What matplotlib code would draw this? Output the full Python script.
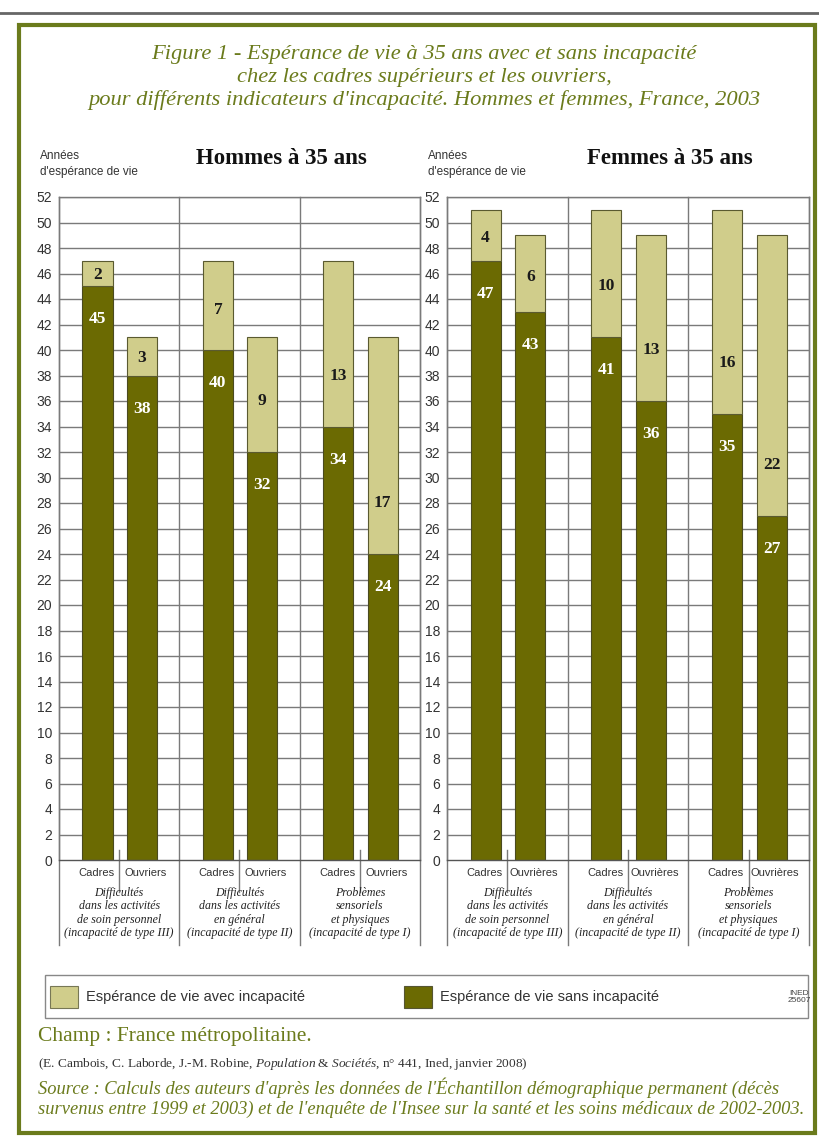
import matplotlib.pyplot as plt
from matplotlib.patches import Rectangle

# values (years of life expectancy at 35)
groupes = ["Difficultés\ndans les activités\nde soin personnel\n(incapacité de type III)",
           "Difficultés\ndans les activités\nen général\n(incapacité de type II)",
           "Problèmes\nsensoriels\net physiques\n(incapacité de type I)"]
hommes_cat = ["Cadres", "Ouvriers"]
femmes_cat = ["Cadres", "Ouvrières"]

hommes_cadres_sans = [45, 40, 34]
hommes_cadres_avec = [2, 7, 13]
hommes_ouvriers_sans = [38, 32, 24]
hommes_ouvriers_avec = [3, 9, 17]

femmes_cadres_sans = [47, 41, 35]
femmes_cadres_avec = [4, 10, 16]
femmes_ouvrieres_sans = [43, 36, 27]
femmes_ouvrieres_avec = [6, 13, 22]

yticks = list(range(0, 53, 2))

DARK = "#6b6a02"
LIGHT = "#d0cd8b"
OLIVE = "#6b7b1c"
GRID = "#7a7a7a"
W, H = 820, 1142
SERIF = ["Liberation Serif", "DejaVu Serif"]
SANS = ["Liberation Sans", "DejaVu Sans"]

plt.rcParams["mathtext.fontset"] = "custom"
plt.rcParams["mathtext.rm"] = "Liberation Serif"
plt.rcParams["mathtext.it"] = "Liberation Serif:italic"

fig = plt.figure(figsize=(W / 100, H / 100), dpi=100)


def px(x, y):
    return x / W, 1 - y / H


def panel(x0, x1, cat, c_sans, c_avec, o_sans, o_avec, titre):
    l, b = px(x0, 860)
    r, t = px(x1, 197)
    ax = fig.add_axes([l, b, r - l, t - b])
    ax.set_xlim(0, 3)
    ax.set_ylim(0, 52)
    ax.set_yticks(yticks)
    ax.set_yticklabels([str(v) for v in yticks], fontsize=10, family=SANS, color="#333333")
    ax.set_xticks([])
    ax.tick_params(axis="y", length=0, pad=5)
    for s in ax.spines.values():
        s.set_color(GRID)
        s.set_linewidth(1.0)
    ax.spines["bottom"].set_color("#555555")
    for v in yticks[1:]:
        ax.axhline(v, color=GRID, lw=1.0, zorder=0)

    w = 0.25
    for i in range(3):
        for pos, sans, avec in [(i + 0.32, c_sans[i], c_avec[i]), (i + 0.69, o_sans[i], o_avec[i])]:
            ax.bar(pos, sans, w, color=DARK, edgecolor="#4a4a20", lw=0.8, zorder=2)
            ax.bar(pos, avec, w, bottom=sans, color=LIGHT, edgecolor="#5a5a30", lw=0.8, zorder=2)
            ax.text(pos, sans - 2.6, str(sans), ha="center", va="center", color="white",
                    fontsize=12.5, fontweight="bold", family=SERIF, zorder=3)
            ax.text(pos, sans + min(avec * 0.45, 4), str(avec), ha="center", va="center",
                    color="#1a1a1a", fontsize=12.5, fontweight="bold", family=SERIF, zorder=3)
        ax.text(i + 0.31, -1.0, cat[0], ha="center", va="center", fontsize=8,
                family=SANS, color="#333333")
        ax.text(i + 0.72, -1.0, cat[1], ha="center", va="center", fontsize=8,
                family=SANS, color="#333333")
        ax.plot([i + 0.5, i + 0.5], [0.8, -2.5], color=GRID, lw=1.0, clip_on=False)
        ax.text(i + 0.5, -2.15, groupes[i], ha="center", va="top", fontsize=8.6,
                style="italic", family=SERIF, color="#222222", linespacing=1.12)
    for g in range(4):
        ax.plot([g, g], [52, -6.7], color=GRID, lw=1.0, clip_on=False, zorder=1)

    ax.text(-0.16, 54.6, "Années\nd'espérance de vie", ha="left", va="center",
            fontsize=8.5, family=SANS, color="#333333", linespacing=1.5)
    ax.text(1.85, 55.0, titre, ha="center", va="center", fontsize=16.5,
            fontweight="bold", family=SERIF, color="#111111")
    return ax


panel(59, 420, hommes_cat, hommes_cadres_sans, hommes_cadres_avec,
      hommes_ouvriers_sans, hommes_ouvriers_avec, "Hommes à 35 ans")
panel(447, 809, femmes_cat, femmes_cadres_sans, femmes_cadres_avec,
      femmes_ouvrieres_sans, femmes_ouvrieres_avec, "Femmes à 35 ans")

# title
titre = ["Figure 1 - Espérance de vie à 35 ans avec et sans incapacité",
         "chez les cadres supérieurs et les ouvriers,",
         "pour différents indicateurs d'incapacité. Hommes et femmes, France, 2003"]
for k, line in enumerate(titre):
    fig.text(*px(424, 55 + 22.5 * k), line, ha="center", va="center", fontsize=16.2,
             style="italic", family=SERIF, color=OLIVE)

# legend box
fig.patches.append(Rectangle(px(45, 1018), 763 / W, 43 / H, transform=fig.transFigure,
                             fill=False, edgecolor="#888888", lw=1.0))
fig.patches.append(Rectangle(px(50, 1008), 28 / W, 22 / H, transform=fig.transFigure,
                             facecolor=LIGHT, edgecolor="#777755", lw=0.8))
fig.patches.append(Rectangle(px(404, 1008), 28 / W, 22 / H, transform=fig.transFigure,
                             facecolor=DARK, edgecolor="#555533", lw=0.8))
fig.text(*px(86, 997), "Espérance de vie avec incapacité", ha="left", va="center",
         fontsize=10.5, family=SANS, color="#333333")
fig.text(*px(440, 997), "Espérance de vie sans incapacité", ha="left", va="center",
         fontsize=10.5, family=SANS, color="#333333")
fig.text(*px(799, 997), "INED\n25607", ha="center", va="center", fontsize=6,
         family=SANS, color="#444444", linespacing=1.0)

# notes
fig.text(*px(38, 1036), "Champ : France métropolitaine.", ha="left", va="center",
         fontsize=15.5, family=SERIF, color=OLIVE)
fig.text(*px(38, 1064), "(E. Cambois, C. Laborde, J.-M. Robine, $\\it{Population\\ &\\ Sociétés}$, n° 441, Ined, janvier 2008)",
         ha="left", va="center", fontsize=9.6, family=SERIF, color="#333333")
fig.text(*px(38, 1088), "Source : Calculs des auteurs d'après les données de l'Échantillon démographique permanent (décès",
         ha="left", va="center", fontsize=13.3, style="italic", family=SERIF, color=OLIVE)
fig.text(*px(38, 1109), "survenus entre 1999 et 2003) et de l'enquête de l'Insee sur la santé et les soins médicaux de 2002-2003.",
         ha="left", va="center", fontsize=13.3, style="italic", family=SERIF, color=OLIVE)

# frame
fig.patches.append(Rectangle(px(19, 1133), 796 / W, 1108 / H, transform=fig.transFigure,
                             fill=False, edgecolor=OLIVE, lw=3))
fig.lines.append(plt.Line2D([0, 1], [1 - 13 / H, 1 - 13 / H], transform=fig.transFigure,
                            color="#666666", lw=2))

fig.savefig("out.png", dpi=100)
